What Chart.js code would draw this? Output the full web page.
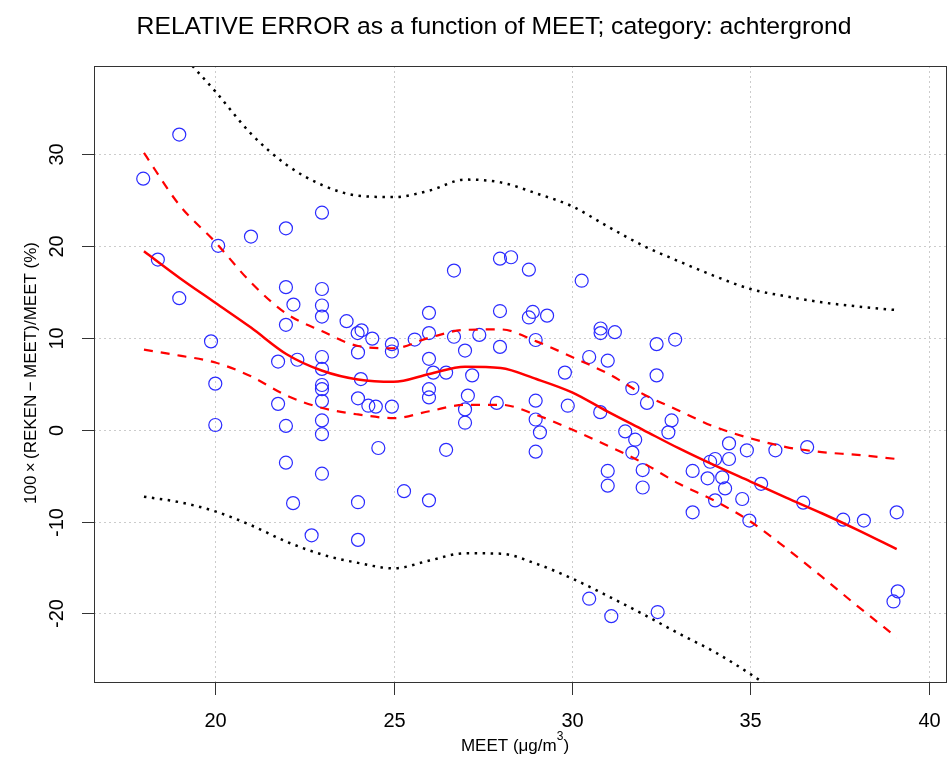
<!DOCTYPE html>
<html>
<head>
<meta charset="utf-8">
<script src="https://cdn.jsdelivr.net/npm/chart.js@4.4.1/dist/chart.umd.min.js"></script>
<style>
  html,body{margin:0;padding:0;background:#fff;}
  #wrap{width:949px;height:758px;position:relative;}
</style>
</head>
<body>
<div id="wrap"><canvas id="c" width="949" height="758"></canvas></div>
<script>
const meetX = [18.99,17.98,18.39,18.99,20.08,21.0,21.98,22.99,21.98,22.99,22.19,22.99,22.99,21.98,23.68,23.99,24.1,24.4,24.95,24.95,
  19.88,21.76,22.3,22.99,22.99,24.0,24.08,20.0,22.99,22.99,22.99,21.76,24.0,24.29,24.5,24.95,20.0,21.98,22.99,22.99,
  24.57,21.98,22.99,22.18,24.0,22.7,24.0,27.98,28.29,26.69,28.79,30.27,25.99,27.98,28.9,28.79,29.3,25.59,25.99,26.69,
  27.4,27.98,28.98,27.0,25.99,30.48,30.8,30.8,31.2,31.0,32.37,32.89,32.37,26.11,26.47,27.2,29.8,25.99,25.99,27.08,
  27.0,27.0,27.89,28.98,29.88,28.98,29.1,28.98,30.79,31.69,32.1,31.49,31.77,31.69,32.79,32.7,26.47,25.29,25.99,31.0,
  31.0,31.98,31.98,34.4,34.9,35.7,36.59,34.01,33.87,34.4,33.38,33.8,34.21,34.29,35.3,34.01,34.77,33.38,34.97,36.48,
  37.6,38.18,39.1,30.48,31.1,32.4,39.13,39.01];
const relErr = [32.1,27.3,18.5,14.3,20.0,21.0,21.9,23.6,15.5,15.3,13.6,13.5,12.3,11.4,11.8,10.5,10.8,9.9,9.3,8.5,
  9.6,7.4,7.6,7.9,6.6,8.4,5.5,5.0,4.85,4.4,3.1,2.8,3.4,2.6,2.5,2.5,0.5,0.4,1.0,-0.5,
  -2.0,-3.6,-4.8,-8.0,-7.9,-11.5,-12.0,18.6,18.75,17.3,17.4,16.2,12.7,12.9,12.8,12.2,12.4,9.8,10.5,10.1,
  10.3,9.0,9.75,8.6,7.7,7.9,11.0,10.5,10.6,7.5,9.3,9.8,5.9,6.2,6.2,5.9,6.2,4.4,3.5,3.7,
  2.2,0.75,2.9,3.15,2.6,1.1,-0.3,-2.4,1.9,4.5,2.9,-0.2,-1.1,-2.5,1.0,-0.3,-2.2,-6.7,-7.7,-4.5,
  -6.1,-4.4,-6.3,-1.5,-2.25,-2.25,-1.9,-3.2,-3.5,-3.2,-4.5,-5.3,-5.2,-6.4,-5.9,-7.7,-7.55,-9.0,-9.9,-7.95,
  -9.8,-9.9,-9.0,-18.4,-20.3,-19.85,-17.6,-18.7];

// smooth fit and bands
const curveX  = [18,19,20,21,22,23,24,25,26,27,28,29,30,31,32,33,34,35,36,37,38,39.1];
const fit     = [19.4,16.5,13.8,11.1,8.2,6.4,5.45,5.2,6.05,6.85,6.7,5.5,4.05,1.95,-0.05,-2.05,-3.9,-5.65,-7.4,-9.1,-10.9,-13.0];
const confHi  = [30.1,24.4,20.4,16.0,12.6,10.7,9.1,8.85,10.0,10.85,10.9,9.6,7.9,6.1,3.85,2.05,0.3,-0.95,-1.9,-2.45,-2.75,-3.2];
const confLo  = [8.7,8.05,7.3,5.8,3.7,2.35,1.65,1.25,2.0,2.7,2.7,1.6,0.0,-1.75,-3.65,-5.9,-7.75,-10.0,-12.9,-16.0,-19.2,-22.6];
const predHi  = [46.5,41.2,36.8,32.2,28.8,26.6,25.45,25.3,26.0,27.2,26.9,25.7,24.3,22.1,20.0,18.3,16.7,15.3,14.5,13.85,13.4,13.0];
const predLo  = [-7.3,-7.9,-8.9,-10.4,-12.2,-13.6,-14.5,-15.1,-14.25,-13.45,-13.5,-14.6,-16.2,-18.1,-20.1,-22.2,-24.2,-26.6,-29.3,-32.3,-35.5,-39.0];

const xTicks = [20,25,30,35,40];
const yTicks = [-20,-10,0,10,20,30];

const pts = (xs, ys) => xs.map((x,i)=>({x, y:ys[i]}));
const FONT = '"Liberation Sans", Arial, sans-serif';

function lineSet(ys, color, dash, width){
  return {data:pts(curveX, ys), showLine:true, borderColor:color, borderWidth:width, borderDash:dash,
    borderCapStyle:'butt', pointRadius:0, cubicInterpolationMode:'monotone', fill:false};
}

const rFrame = {
  id:'rFrame',
  beforeDatasetsDraw(chart){
    const {ctx, chartArea:a, scales:{x, y}} = chart;
    ctx.save();
    ctx.strokeStyle = '#cccccc'; ctx.lineWidth = 1; ctx.setLineDash([2,3]);
    xTicks.forEach(v=>{
      const px = Math.round(x.getPixelForValue(v))+0.5;
      ctx.beginPath(); ctx.moveTo(px, a.top); ctx.lineTo(px, a.bottom); ctx.stroke();
    });
    yTicks.forEach(v=>{
      const py = Math.round(y.getPixelForValue(v))+0.5;
      ctx.beginPath(); ctx.moveTo(a.left, py); ctx.lineTo(a.right, py); ctx.stroke();
    });
    ctx.restore();
  },
  afterDraw(chart){
    const {ctx, chartArea:a, scales:{x, y}} = chart;
    ctx.save();
    ctx.strokeStyle = '#333'; ctx.lineWidth = 1;
    ctx.strokeRect(a.left+0.5, a.top+0.5, a.right-a.left-1, a.bottom-a.top-1);
    ctx.fillStyle = '#000';
    ctx.font = '20px ' + FONT;
    ctx.textAlign = 'center'; ctx.textBaseline = 'middle';
    xTicks.forEach(v=>{
      const px = Math.round(x.getPixelForValue(v))+0.5;
      ctx.beginPath(); ctx.moveTo(px, a.bottom); ctx.lineTo(px, a.bottom+12); ctx.stroke();
      ctx.fillText(String(v), px, 721);
    });
    yTicks.forEach(v=>{
      const py = Math.round(y.getPixelForValue(v))+0.5;
      ctx.beginPath(); ctx.moveTo(a.left-12, py); ctx.lineTo(a.left, py); ctx.stroke();
      ctx.save(); ctx.translate(57, py); ctx.rotate(-Math.PI/2);
      ctx.fillText(String(v), 0, 0); ctx.restore();
    });
    // main title
    const title = 'RELATIVE ERROR as a function of MEET; category: achtergrond';
    ctx.font = '20px ' + FONT;
    const fs = 20 * 715 / ctx.measureText(title).width;
    ctx.font = fs.toFixed(2) + 'px ' + FONT;
    ctx.fillText(title, 494, 27);
    // x title with superscript
    ctx.font = '17px ' + FONT;
    const p1 = 'MEET (\u03bcg/m', p2 = ')';
    ctx.textAlign = 'left';
    const w1 = ctx.measureText(p1).width, w2 = ctx.measureText(p2).width;
    ctx.font = '12px ' + FONT;
    const w3 = ctx.measureText('3').width;
    const x0 = 515 - (w1 + w2 + w3)/2;
    ctx.font = '17px ' + FONT;
    ctx.fillText(p1, x0, 746);
    ctx.fillText(p2, x0 + w1 + w3, 746);
    ctx.font = '12px ' + FONT;
    ctx.fillText('3', x0 + w1, 737);
    // y title
    ctx.font = '17px ' + FONT;
    ctx.textAlign = 'center';
    ctx.save(); ctx.translate(31, 373); ctx.rotate(-Math.PI/2);
    ctx.fillText('100\u2009\u00d7\u2009(REKEN\u2009\u2212\u2009MEET)/MEET (%)', 0, 0);
    ctx.restore();
    ctx.restore();
  }
};

new Chart(document.getElementById('c'), {
  type:'scatter',
  data:{datasets:[
    lineSet(fit, '#ff0000', [], 2.5),
    lineSet(confHi, '#ff0000', [9,8], 2.2),
    lineSet(confLo, '#ff0000', [9,8], 2.2),
    lineSet(predHi, '#000000', [2.5,5.5], 2.5),
    lineSet(predLo, '#000000', [2.5,5.5], 2.5),
    {data:pts(meetX, relErr), pointStyle:'circle', pointRadius:6.5, pointHoverRadius:6.5,
      pointBorderColor:'#2b2bff', pointBackgroundColor:'rgba(0,0,0,0)', pointBorderWidth:1.2, showLine:false}
  ]},
  options:{
    responsive:false, animation:false, events:[],
    layout:{autoPadding:false, padding:{left:94, right:2, top:66, bottom:75}},
    plugins:{legend:{display:false}, tooltip:{enabled:false}, title:{display:false}},
    scales:{
      x:{type:'linear', display:false, min:16.6, max:40.51},
      y:{type:'linear', display:false, min:-27.57, max:39.56}
    }
  },
  plugins:[rFrame]
});
</script>
</body>
</html>
